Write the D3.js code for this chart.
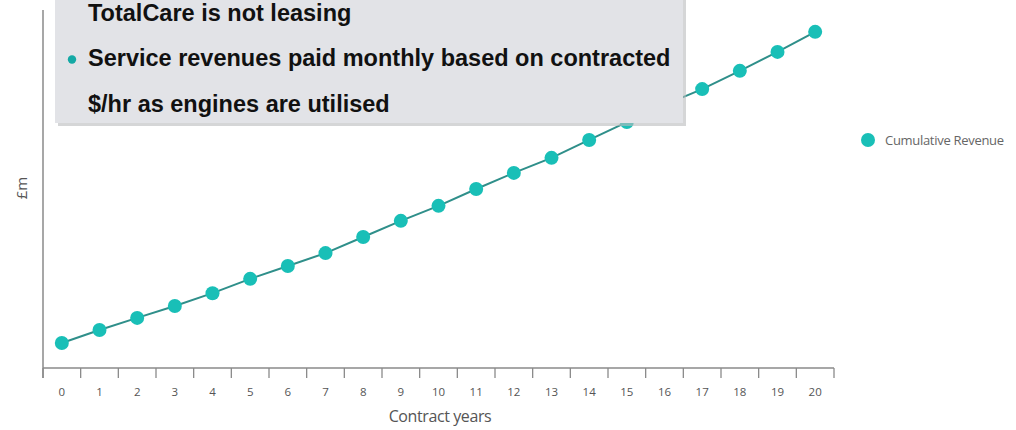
<!DOCTYPE html>
<html>
<head>
<meta charset="utf-8">
<script src="https://cdn.jsdelivr.net/npm/d3@7"></script>
<style>
  html, body { margin: 0; padding: 0; background: #fff; }
  svg { display: block; }
</style>
</head>
<body>
<svg id="chart" width="1016" height="430"></svg>
<script>
// Contract years shown on the x axis
const years = ["0","1","2","3","4","5","6","7","8","9","10","11","12","13","14","15","16","17","18","19","20"];
// Cumulative revenue (£m, relative scale) for each contract year
const cumulativeRevenue = [7.0, 10.6, 14.0, 17.3, 20.9, 24.9, 28.5, 32.1, 36.6, 41.1, 45.3, 50.0, 54.5, 58.7, 63.7, 68.7, 73.5, 77.9, 83.0, 88.3, 93.9];
const seriesName = "Cumulative Revenue";
const calloutLines = [
  { text: "TotalCare is not leasing", bullet: false },
  { text: "Service revenues paid monthly based on contracted", bullet: true },
  { text: "$/hr as engines are utilised", bullet: false }
];

const svg = d3.select("#chart");
const plotLeft = 43, plotRight = 834, plotBottom = 368, plotTop = 10;

const x = d3.scaleBand().domain(years).range([plotLeft, plotRight]);
const y = d3.scaleLinear().domain([0, 100]).range([plotBottom, plotTop]);

const axisColor = "#8a8a8a";
const textColor = "#555";

// x axis: ticks sit on band boundaries, labels at band centres
const gx = svg.append("g");
gx.append("line")
  .attr("x1", plotLeft).attr("x2", plotRight)
  .attr("y1", plotBottom).attr("y2", plotBottom)
  .attr("stroke", axisColor).attr("stroke-width", 1.5);
const boundaries = years.map(d => x(d)).concat([x.range()[1]]);
gx.selectAll("line.tick").data(boundaries).join("line")
  .attr("class", "tick")
  .attr("x1", d => d).attr("x2", d => d)
  .attr("y1", plotBottom).attr("y2", plotBottom + 10)
  .attr("stroke", axisColor).attr("stroke-width", 1.3);
gx.selectAll("text").data(years).join("text")
  .attr("x", d => x(d) + x.bandwidth() / 2)
  .attr("y", plotBottom + 28)
  .attr("text-anchor", "middle")
  .attr("font-family", "Open Sans, sans-serif")
  .attr("font-size", 11.5)
  .attr("fill", textColor)
  .text(d => d);

// y axis line (no ticks)
svg.append("line")
  .attr("x1", plotLeft).attr("x2", plotLeft)
  .attr("y1", plotTop).attr("y2", plotBottom + 10)
  .attr("stroke", axisColor).attr("stroke-width", 1.5);

// axis titles
svg.append("text")
  .attr("x", 440).attr("y", 422)
  .attr("text-anchor", "middle")
  .attr("font-family", "Open Sans, sans-serif")
  .attr("font-size", 16)
  .attr("letter-spacing", -0.4)
  .attr("fill", textColor)
  .text("Contract years");
svg.append("text")
  .attr("transform", "translate(27,188) rotate(-90)")
  .attr("text-anchor", "middle")
  .attr("font-family", "Open Sans, sans-serif")
  .attr("font-size", 15)
  .attr("fill", textColor)
  .text("£m");

// series line and markers
const cx = d => x(d) + x.bandwidth() / 2;
const pts = years.map((d, i) => [cx(d), y(cumulativeRevenue[i])]);
svg.append("path")
  .attr("d", d3.line()(pts))
  .attr("fill", "none")
  .attr("stroke", "#2f8f8a")
  .attr("stroke-width", 2);
svg.selectAll("circle.pt").data(pts).join("circle")
  .attr("class", "pt")
  .attr("cx", d => d[0]).attr("cy", d => d[1])
  .attr("r", 7)
  .attr("fill", "#19bfb7");

// legend
svg.append("circle").attr("cx", 868).attr("cy", 140).attr("r", 7).attr("fill", "#19bfb7");
svg.append("text")
  .attr("x", 885).attr("y", 144.5)
  .attr("font-family", "Open Sans, sans-serif")
  .attr("font-size", 13)
  .attr("letter-spacing", -0.3)
  .attr("fill", "#666")
  .text(seriesName);

// callout box overlaying the top of the chart
const box = svg.append("g");
box.append("rect")
  .attr("x", 58).attr("y", -10).attr("width", 628).attr("height", 136)
  .attr("fill", "#b9babd").attr("opacity", 0.6);
box.append("rect")
  .attr("x", 55).attr("y", -10).attr("width", 628).attr("height", 133)
  .attr("fill", "#e2e3e7");
calloutLines.forEach((l, i) => {
  const by = 20.5 + i * 45.5;
  if (l.bullet) {
    box.append("circle").attr("cx", 72).attr("cy", by - 6.5).attr("r", 4.2).attr("fill", "#14a9a5");
  }
  box.append("text")
    .attr("x", 88).attr("y", by)
    .attr("font-family", "Liberation Sans, Arial, sans-serif")
    .attr("font-weight", "bold")
    .attr("font-size", 23.5)
    .attr("fill", "#111")
    .text(l.text);
});
</script>
</body>
</html>
